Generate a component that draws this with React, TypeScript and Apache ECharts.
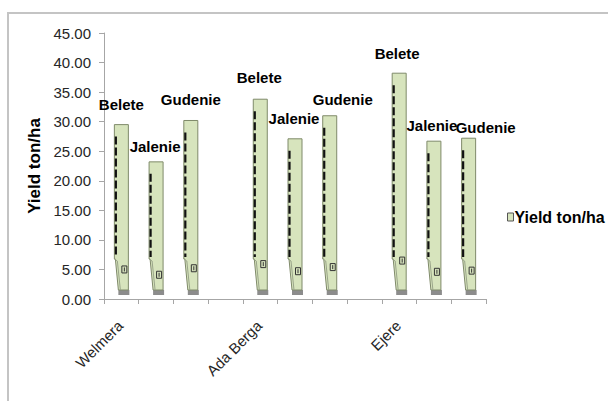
import React, { useEffect, useRef } from "react";
import * as echarts from "echarts";

// ---- data ----
const sites = ["Welmera", "Ada Berga", "Ejere"];
const varieties = ["Belete", "Jalenie", "Gudenie"];
const welmeraYield = [29.5, 23.2, 30.2];
const adaBergaYield = [33.8, 27.1, 31.0];
const ejereYield = [38.2, 26.7, 27.2];
// small error-bar style markers low on each column
const welmeraMark = [5.0, 4.1, 5.2];
const adaBergaMark = [5.9, 4.7, 5.4];
const ejereMark = [6.5, 4.6, 4.8];
const yTicks = { min: 0, max: 45, step: 5 };
const seriesName = "Yield ton/ha";

// ---- styling (label shifts: [dx, gap above bar top]) ----
const labelShift: number[][] = [
  [0, 20], [-1, 15], [0, 21],
  [-1, 22], [-1, 20], [13, 16],
  [-2, 20], [-2, 16], [17, 11],
];

const FONT = '"Liberation Sans", Arial, sans-serif';
const GREEN = "#d7e4bd";

const yields = [welmeraYield, adaBergaYield, ejereYield];
const marks = [welmeraMark, adaBergaMark, ejereMark];

// build category slots: 3 varieties per site, one empty slot between sites
const categoryKeys: string[] = [];
const axisLabels: string[] = [];
const seriesData: any[] = [];
sites.forEach((site, s) => {
  varieties.forEach((v, k) => {
    const idx = categoryKeys.length;
    categoryKeys.push(site + " " + v);
    axisLabels.push(k === 0 ? site : "");
    seriesData.push([idx, yields[s][k], marks[s][k], v]);
  });
  if (s < sites.length - 1) {
    categoryKeys.push("gap" + s);
    axisLabels.push("");
  }
});

function renderItem(params: any, api: any) {
  const c = api.value(0);
  const v = api.value(1);
  const m = api.value(2);
  const i = params.dataIndex;
  const top = api.coord([c, v]);
  const zero = api.coord([c, 0]);
  const mk = api.coord([c, m]);
  const x = top[0];
  const yT = top[1];
  const y0 = zero[1];
  const w = 14;
  const L = x - w / 2;
  const R = x + w / 2;
  const yB = y0 - 9;
  const yStep = y0 - 40;
  const sh = labelShift[i] || [0, 16];
  return {
    type: "group",
    children: [
      {
        type: "rect",
        shape: { x: x - 3, y: yB, width: 11, height: 5 },
        style: { fill: "#8c8c8c" },
      },
      {
        type: "polygon",
        shape: {
          points: [
            [L, yT],
            [R, yT],
            [R, yB],
            [x - 3, yB],
            [L + 1, yStep],
            [L, yStep],
          ],
        },
        style: { fill: GREEN, stroke: "#7f8a6a", lineWidth: 1 },
      },
      {
        type: "polyline",
        shape: { points: [[L, yStep], [L + 3, yStep + 2], [x - 1, yB]] },
        style: { fill: "none", stroke: "#9aa58a", lineWidth: 1 },
      },
      {
        type: "line",
        shape: { x1: L + 1.5, y1: yT + 12, x2: L + 1.5, y2: yStep - 2 },
        style: { stroke: "#111", lineWidth: 2.2, lineDash: [8, 3] },
      },
      {
        type: "rect",
        shape: { x: x + 0.5, y: mk[1] - 3.5, width: 5, height: 7 },
        style: { fill: GREEN, stroke: "#333", lineWidth: 1 },
      },
      {
        type: "line",
        shape: { x1: x + 3, y1: mk[1] - 2, x2: x + 3, y2: mk[1] + 2 },
        style: { stroke: "#333", lineWidth: 1 },
      },
      {
        type: "text",
        x: x + sh[0],
        y: yT - sh[1],
        style: {
          text: api.value(3),
          fill: "#000",
          fontFamily: FONT,
          fontSize: 15,
          fontWeight: "bold",
          align: "center",
          verticalAlign: "middle",
        },
      },
    ],
  };
}

const frame = {
  id: "frame",
  type: "rect",
  shape: { x: 8, y: 13, width: 700, height: 500 },
  style: { fill: "none", stroke: "#c4c4c4", lineWidth: 2 },
  silent: true,
  z: -10,
};

export default function App() {
  const ref = useRef<HTMLDivElement>(null);
  useEffect(() => {
    if (!ref.current) return;
    const chart = echarts.init(ref.current, undefined, { renderer: "svg" });
    chart.setOption({
      animation: false,
      backgroundColor: "#fff",
      grid: { left: 104, right: 122, top: 33, bottom: 102 },
      graphic: [frame],
      legend: {
        orient: "vertical",
        left: 502,
        top: 204,
        icon: "rect",
        itemWidth: 6,
        itemHeight: 8,
        itemGap: 5,
        data: [
          {
            name: seriesName,
            itemStyle: { color: GREEN, borderColor: "#555", borderWidth: 1 },
          },
        ],
        textStyle: {
          fontFamily: FONT,
          fontSize: 16,
          fontWeight: "bold",
          color: "#000",
          padding: [0, 0, 0, -4],
        },
      },
      xAxis: {
        type: "category",
        data: categoryKeys,
        axisLine: { show: true, lineStyle: { color: "#a6a6a6" } },
        axisTick: {
          show: true,
          interval: 0,
          length: 5,
          lineStyle: { color: "#a6a6a6" },
        },
        axisLabel: { show: false },
      },
      yAxis: {
        type: "value",
        min: yTicks.min,
        max: yTicks.max,
        interval: yTicks.step,
        splitLine: { show: false },
        axisLine: { show: true, lineStyle: { color: "#a6a6a6" } },
        axisTick: { show: true, length: 5, lineStyle: { color: "#a6a6a6" } },
        axisLabel: {
          margin: 13,
          formatter: (v: number) => v.toFixed(2),
          fontFamily: FONT,
          fontSize: 15,
          color: "#262626",
        },
        name: seriesName,
        nameLocation: "middle",
        nameRotate: 90,
        nameGap: 60,
        nameTextStyle: {
          fontFamily: FONT,
          fontSize: 17,
          fontWeight: "bold",
          color: "#000",
        },
      },
      series: [
        {
          type: "custom",
          name: seriesName,
          renderItem,
          data: seriesData,
          encode: { x: 0, y: 1 },
          itemStyle: { color: GREEN, borderColor: "#555", borderWidth: 1 },
          clip: false,
        },
      ],
    });
    // rotated (45°) category labels, positioned through the axis scales
    const y0 = chart.convertToPixel({ yAxisIndex: 0 }, 0) as number;
    const labels: any[] = [];
    axisLabels.forEach((t, idx) => {
      if (!t) return;
      const cx = chart.convertToPixel({ xAxisIndex: 0 }, idx) as number;
      labels.push({
        id: "xl" + idx,
        type: "text",
        x: cx - 1,
        y: y0 + 24,
        rotation: Math.PI / 4,
        style: {
          text: t,
          fill: "#262626",
          fontFamily: FONT,
          fontSize: 15,
          align: "right",
          verticalAlign: "middle",
        },
      });
    });
    chart.setOption({ graphic: [frame, ...labels] });
    return () => chart.dispose();
  }, []);
  return (
    <div
      ref={ref}
      style={{ position: "fixed", left: 0, top: 0, width: 608, height: 401 }}
    />
  );
}
